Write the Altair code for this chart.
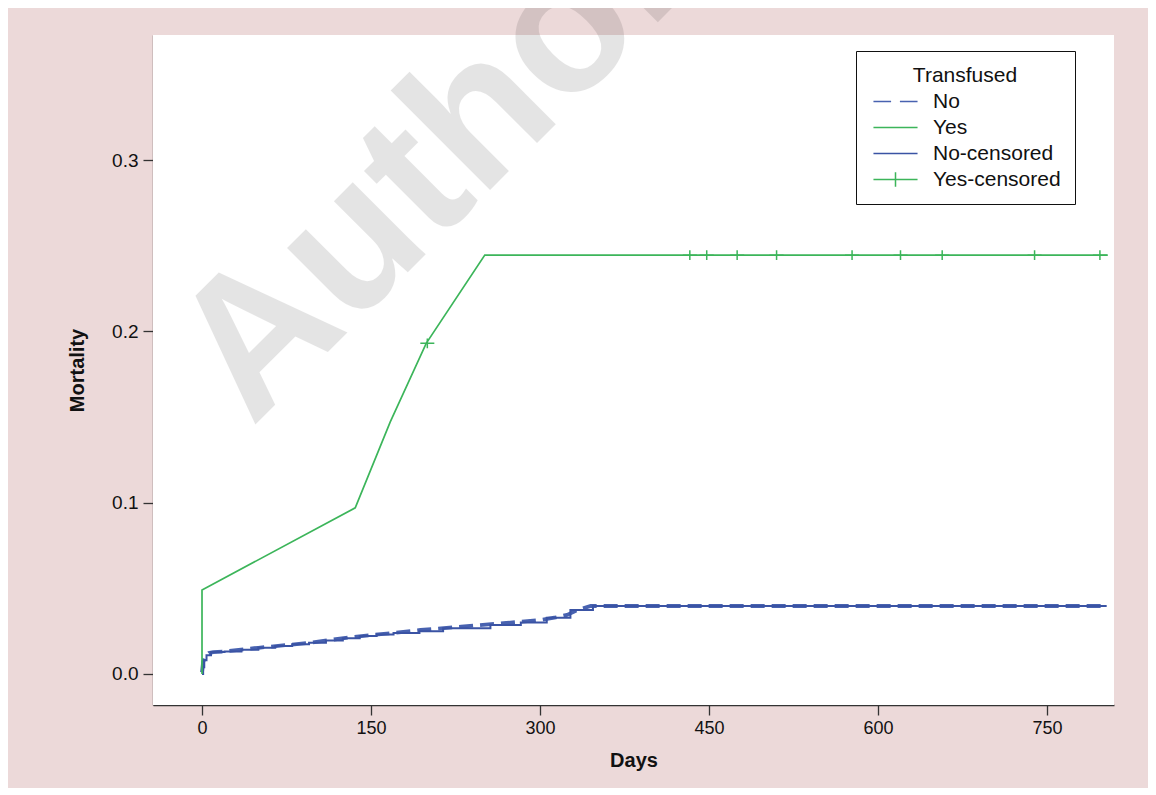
import altair as alt
import pandas as pd

# ---- data ----
series = ["No", "Yes", "No-censored", "Yes-censored"]
series_colors = ["#4862b0", "#3cb55a", "#3a53a4", "#3cb55a"]
legend_paths = ["M-3,0L-0.6,0M0.6,0L3,0", "M-3,0L3,0", "M-3,0L3,0", "M-3,0L3,0M0,-1L0,1"]

no_days = [0, 1, 3, 6, 10, 19, 50, 93, 130, 167, 194, 230, 270, 300, 314, 324, 334, 345, 803]
no_mort = [0.001, 0.007, 0.0105, 0.0122, 0.0128, 0.0131, 0.0153, 0.018, 0.0213, 0.0238, 0.0257,
           0.0276, 0.0298, 0.0315, 0.033, 0.0345, 0.0375, 0.0397, 0.0397]

nocens_days = [0, 1, 2, 4, 8, 20, 35, 50, 65, 80, 95, 110, 125, 140, 155, 170, 193, 214, 256,
               283, 306, 327, 347, 803]
nocens_mort = [0.0, 0.004, 0.008, 0.011, 0.0128, 0.0131, 0.0142, 0.0153, 0.0163, 0.0173, 0.0182,
               0.0195, 0.0208, 0.0222, 0.023, 0.024, 0.0249, 0.0267, 0.0286, 0.030, 0.0329,
               0.0374, 0.0397, 0.0397]

yes_days = [0, 0, 136, 167, 199, 251, 804]
yes_mort = [0.0, 0.049, 0.097, 0.147, 0.193, 0.2445, 0.2445]

cens_days = [200, 433, 448, 475, 510, 577, 620, 657, 739, 797]
cens_mort = [0.193, 0.2445, 0.2445, 0.2445, 0.2445, 0.2445, 0.2445, 0.2445, 0.2445, 0.2445]

x_ticks = [0, 150, 300, 450, 600, 750]
y_ticks = [0.0, 0.1, 0.2, 0.3]
watermark = ["Author"]

# ---- tables ----
no_df = pd.DataFrame({"day": no_days, "mort": no_mort, "idx": range(len(no_days))})
nocens_df = pd.DataFrame({"day": nocens_days, "mort": nocens_mort, "idx": range(len(nocens_days))})
yes_df = pd.DataFrame({"day": yes_days, "mort": yes_mort, "idx": range(len(yes_days))})
cens_df = pd.DataFrame({"day": cens_days, "mort": cens_mort})
legend_df = pd.DataFrame({"series": series})
wm_df = pd.DataFrame({"t": watermark})

FONT = "Liberation Sans"
AX = "#333333"
W, H = 961, 670

x_scale = alt.Scale(domain=[-43.5, 809.5], nice=False, zero=False)
y_scale = alt.Scale(domain=[-0.0181, 0.373], nice=False, zero=False)

x_axis = alt.Axis(values=x_ticks, title="Days", grid=False, labelFontSize=18, titleFontSize=20,
                  titleFontWeight="bold", tickSize=10, labelPadding=4, titlePadding=13,
                  domainColor=AX, tickColor=AX, labelColor="#111", titleColor="#111",
                  domainWidth=1.3, tickWidth=1.3, labelFont=FONT, titleFont=FONT)
y_axis = alt.Axis(values=y_ticks, format=".1f", title="Mortality", grid=False, labelFontSize=19,
                  titleFontSize=20, titleFontWeight="bold", tickSize=10, labelPadding=5,
                  titlePadding=24, domainColor=AX, tickColor=AX, labelColor="#111",
                  titleColor="#111", domainWidth=1.3, tickWidth=1.3, labelFont=FONT, titleFont=FONT)


def xy():
    return dict(x=alt.X("day:Q", scale=x_scale, axis=x_axis),
                y=alt.Y("mort:Q", scale=y_scale, axis=y_axis))


panel = alt.Chart(wm_df).mark_rect(color="white").encode(
    x=alt.value(0), x2=alt.value(W), y=alt.value(0), y2=alt.value(H)
)

wm = alt.Chart(wm_df).mark_text(
    align="left", baseline="alphabetic", angle=315, fontSize=194, fontWeight="bold",
    font=FONT, color="#000000", opacity=0.1
).encode(text="t:N", x=alt.value(99), y=alt.value(393))

no_line = alt.Chart(no_df).mark_line(
    color=series_colors[0], strokeWidth=3.8, strokeDash=[14, 7]
).encode(order="idx:Q", **xy())

nocens_line = alt.Chart(nocens_df).mark_line(
    color=series_colors[2], strokeWidth=2, interpolate="step-after"
).encode(order="idx:Q", **xy())

yes_line = alt.Chart(yes_df).mark_line(
    color=series_colors[1], strokeWidth=1.7
).encode(order="idx:Q", **xy())

cens_pts = alt.Chart(cens_df).mark_point(
    shape="M-1,0L1,0M0,-0.7L0,0.7", size=196, filled=False, color=series_colors[3],
    strokeWidth=1.5, opacity=1
).encode(**xy())

legend_layer = alt.Chart(legend_df).mark_point(filled=False, strokeWidth=1.5, opacity=1).encode(
    color=alt.Color("series:N", scale=alt.Scale(domain=series, range=series_colors),
                    legend=alt.Legend(title="Transfused")),
    shape=alt.Shape("series:N", scale=alt.Scale(domain=series, range=legend_paths),
                    legend=alt.Legend(title="Transfused")),
).transform_filter("false")

chart = alt.layer(panel, wm, no_line, nocens_line, yes_line, cens_pts, legend_layer).properties(
    width=W, height=H,
    autosize=alt.AutoSizeParams(type="none"),
    padding={"left": 145, "top": 27, "right": 34, "bottom": 83},
    background="#ecd9d9",
).configure_view(
    stroke=None
).configure_legend(
    orient="none", legendX=703, legendY=16,
    strokeColor="#111", fillColor="white", padding=14, cornerRadius=0,
    titleFont=FONT, titleFontSize=21, titleFontWeight="normal", titleColor="#111",
    titleAnchor="middle", titlePadding=5,
    labelFont=FONT, labelFontSize=21, labelColor="#111", labelOffset=27,
    symbolSize=216, symbolStrokeWidth=1.5, symbolOffset=15, rowPadding=4,
)

chart.save("out.html", embed_options={"renderer": "svg", "actions": False})
